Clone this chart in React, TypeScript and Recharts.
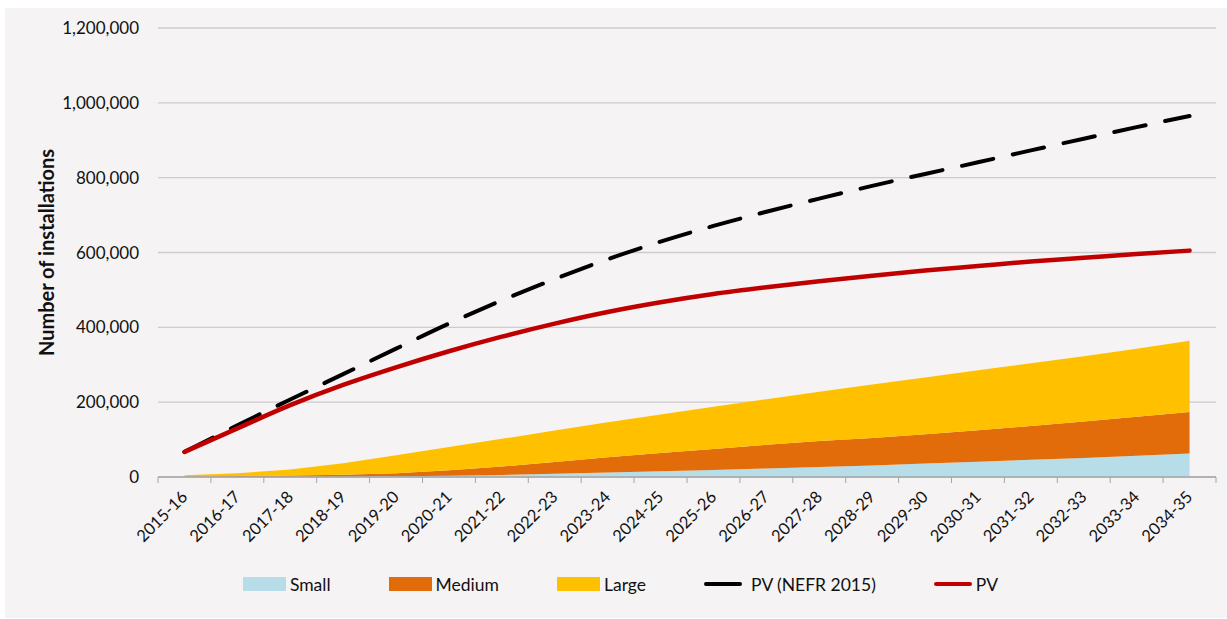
import React from "react";
import {
  ComposedChart,
  Area,
  Line,
  XAxis,
  YAxis,
  CartesianGrid,
  Legend,
} from "recharts";

const years = [
  "2015-16", "2016-17", "2017-18", "2018-19", "2019-20", "2020-21", "2021-22",
  "2022-23", "2023-24", "2024-25", "2025-26", "2026-27", "2027-28", "2028-29",
  "2029-30", "2030-31", "2031-32", "2032-33", "2033-34", "2034-35",
];

// stacked areas (number of installations)
const small = [500, 800, 1000, 1500, 2000, 3500, 5500, 8500, 12000, 15500, 19000, 23000, 27000, 31000, 36000, 41000, 46000, 51000, 57000, 63000];
const medium = [1000, 1700, 3000, 4500, 8000, 14500, 22500, 31500, 41000, 48500, 56000, 63000, 69000, 73000, 78000, 84000, 90000, 97000, 104000, 111000];
const large = [3500, 7500, 16000, 31000, 48000, 62000, 74000, 84000, 93000, 103000, 113000, 122000, 132000, 143000, 152000, 160000, 168000, 175000, 182000, 190000];

const pvNefr = [67000, 138000, 207000, 275000, 343000, 410000, 472000, 529000, 582000, 629000, 671000, 709000, 744000, 778000, 810000, 841000, 873000, 904000, 935000, 965000];
const pv = [67000, 130000, 192000, 246000, 293000, 336000, 375000, 410000, 441000, 467000, 489000, 507000, 523000, 538000, 552000, 564000, 576000, 586000, 596000, 605000];

const yTicks = [0, 200000, 400000, 600000, 800000, 1000000, 1200000];

const data = years.map((year, i) => ({
  year,
  small: small[i],
  medium: medium[i],
  large: large[i],
  pvNefr: pvNefr[i],
  pv: pv[i],
}));

const FONT = "Lato, 'Open Sans', sans-serif";
const HALF_STEP = 26.45;

const XTick = (props: any) => {
  const { x, y, payload, index } = props;
  const tx = x + 4;
  const ty = y + 21;
  return (
    <g>
      <line x1={x - HALF_STEP} x2={x - HALF_STEP} y1={y} y2={y + 6} stroke="#A6A6A6" />
      {index === years.length - 1 && (
        <line x1={x + HALF_STEP} x2={x + HALF_STEP} y1={y} y2={y + 6} stroke="#A6A6A6" />
      )}
      <text
        x={tx}
        y={ty}
        transform={`rotate(-45, ${tx}, ${ty})`}
        textAnchor="end"
        fontSize={16.5}
        fontFamily={FONT}
        fill="#111"
      >
        {payload.value}
      </text>
    </g>
  );
};

const legendItems = [
  { name: "Small", color: "#B7DDE8", kind: "box" },
  { name: "Medium", color: "#E36C0A", kind: "box" },
  { name: "Large", color: "#FFC000", kind: "box" },
  { name: "PV (NEFR 2015)", color: "#000000", kind: "line" },
  { name: "PV", color: "#C00000", kind: "line" },
];

const LegendContent = () => (
  <div
    style={{
      display: "flex",
      justifyContent: "center",
      alignItems: "center",
      gap: 58,
      height: 24,
      paddingLeft: 20,
      fontFamily: FONT,
      fontSize: 17.5,
      color: "#111",
    }}
  >
    {legendItems.map((it) => (
      <div key={it.name} style={{ display: "flex", alignItems: "center" }}>
        {it.kind === "box" ? (
          <span style={{ display: "inline-block", width: 43, height: 14, background: it.color, marginRight: 4 }} />
        ) : (
          <span
            style={{ display: "inline-block", width: 38, height: 4, borderRadius: 2, background: it.color, marginRight: it.name === "PV" ? 4 : 9 }}
          />
        )}
        <span>{it.name}</span>
      </div>
    ))}
  </div>
);

export default function App() {
  return (
    <div style={{ position: "absolute", left: 5, top: 8, width: 1222, height: 610, background: "#F5F3F4" }}>
      <ComposedChart width={1222} height={610} data={data} margin={{ top: 20, right: 11, left: 0, bottom: 22 }}>
        <CartesianGrid vertical={false} stroke="#CDCBCC" strokeWidth={1.3} />
        <XAxis
          dataKey="year"
          height={95}
          padding={{ left: HALF_STEP, right: HALF_STEP }}
          tickLine={false}
          tickSize={0}
          tickMargin={0}
          axisLine={{ stroke: "#A6A6A6", strokeWidth: 1.3 }}
          interval={0}
          tick={<XTick />}
        />
        <YAxis
          width={153}
          domain={[0, 1200000]}
          ticks={yTicks}
          axisLine={false}
          tickLine={false}
          tickSize={0}
          tickMargin={19}
          tick={{ fontSize: 17, fontFamily: FONT, fill: "#111" }}
          tickFormatter={(v: number) => v.toLocaleString("en-US")}
          label={({ viewBox }: any) => {
            const cx = 41;
            const cy = viewBox.y + viewBox.height / 2;
            return (
              <text
                x={cx}
                y={cy}
                transform={`rotate(-90, ${cx}, ${cy})`}
                textAnchor="middle"
                dominantBaseline="central"
                fontSize={20}
                fontWeight="bold"
                fontFamily={FONT}
                fill="#111"
              >
                Number of installations
              </text>
            );
          }}
        />
        <Area type="linear" dataKey="small" stackId="a" fill="#B7DDE8" stroke="none" fillOpacity={1} isAnimationActive={false} />
        <Area type="linear" dataKey="medium" stackId="a" fill="#E36C0A" stroke="none" fillOpacity={1} isAnimationActive={false} />
        <Area type="linear" dataKey="large" stackId="a" fill="#FFC000" stroke="none" fillOpacity={1} isAnimationActive={false} />
        <Line
          type="monotone"
          dataKey="pvNefr"
          stroke="#000000"
          strokeWidth={4}
          strokeDasharray="32 20"
          strokeLinecap="round"
          dot={false}
          isAnimationActive={false}
        />
        <Line
          type="monotone"
          dataKey="pv"
          stroke="#C00000"
          strokeWidth={4.5}
          strokeLinecap="round"
          dot={false}
          isAnimationActive={false}
        />
        <Legend verticalAlign="bottom" content={<LegendContent />} />
      </ComposedChart>
    </div>
  );
}
